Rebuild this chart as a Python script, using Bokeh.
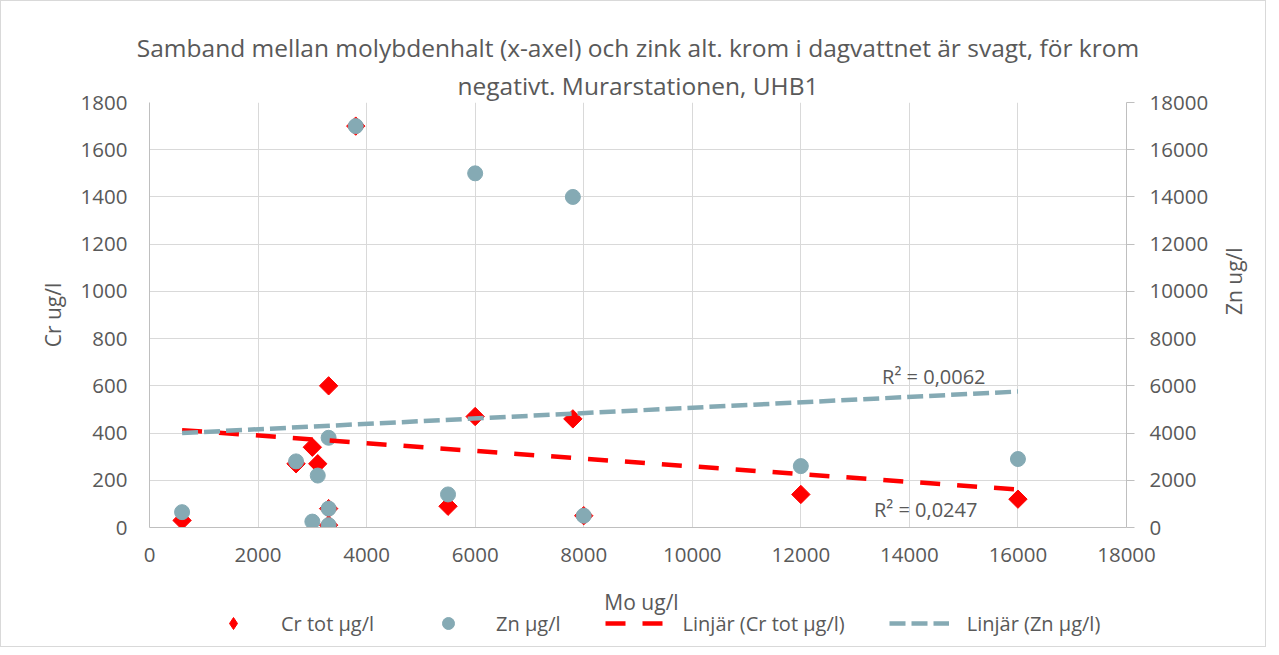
import math
import numpy as np
from bokeh.plotting import figure
from bokeh.layouts import column
from bokeh.models import (Range1d, LinearAxis, FixedTicker, Legend, LegendItem, Label, Title)
from bokeh.embed import file_html
from bokeh.resources import INLINE

# ---- data ----
mo = [600, 2700, 3000, 3100, 3300, 3300, 3300, 3800, 5500, 6000, 7800, 8000, 12000, 16000]
cr = [30, 270, 340, 270, 600, 80, 10, 1700, 90, 470, 460, 50, 140, 120]
zn = [650, 2800, 250, 2200, 3800, 800, 100, 17000, 1400, 15000, 14000, 500, 2600, 2900]

x_ticks = list(range(0, 18001, 2000))
cr_ticks = list(range(0, 1801, 200))
zn_ticks = list(range(0, 18001, 2000))

r2_cr = "R² = 0,0247"
r2_zn = "R² = 0,0062"

title_line1 = "Samband mellan molybdenhalt (x-axel) och zink alt. krom i dagvattnet är svagt, för krom"
title_line2 = "negativt. Murarstationen, UHB1"
x_label = "Mo ug/l"
legend_labels = ["Cr tot µg/l", "Zn µg/l", "Linjär (Cr tot µg/l)", "Linjär (Zn µg/l)"]

FONT = "Open Sans"
TXT = "#595959"
GRID = "#d9d9d9"
AXIS = "#bfbfbf"
RED = "#ff0000"
TEAL = "#85aab4"
W = 1264

p = figure(width=W, height=580, output_backend="svg", toolbar_location=None,
           title=None,
           x_range=Range1d(0, 18000), y_range=Range1d(0, 1800),
           min_border_left=148, min_border_right=137, min_border_top=101, min_border_bottom=54)
p.extra_y_ranges = {"zn": Range1d(0, 18000)}
p.outline_line_color = None
p.background_fill_color = "white"
p.border_fill_color = "white"

# title (two lines, first added is nearest to the plot)
for txt, so in [(title_line2, 2), (title_line1, 4)]:
    p.add_layout(Title(text=txt, align="center", text_font=FONT, text_font_size="24.5px",
                       text_font_style="normal", text_color=TXT, standoff=so),
                 "above")

# grids
p.xgrid.grid_line_color = GRID
p.ygrid.grid_line_color = GRID
p.xgrid.ticker = FixedTicker(ticks=x_ticks)
p.ygrid.ticker = FixedTicker(ticks=cr_ticks)

def style_axis(ax):
    ax.axis_line_color = AXIS
    ax.major_tick_line_color = AXIS
    ax.minor_tick_line_color = None
    ax.major_tick_in = 0
    ax.major_label_text_font = FONT
    ax.major_label_text_font_size = "20.5px"
    ax.major_label_text_color = TXT
    ax.axis_label_text_font = FONT
    ax.axis_label_text_font_size = "21px"
    ax.axis_label_text_font_style = "normal"
    ax.axis_label_text_color = TXT

xa = p.xaxis[0]
style_axis(xa)
xa.ticker = FixedTicker(ticks=x_ticks)
xa.major_tick_out = 0
xa.major_label_standoff = 20

ya = p.yaxis[0]
style_axis(ya)
ya.ticker = FixedTicker(ticks=cr_ticks)
ya.axis_label = "Cr ug/l"
ya.major_tick_out = 0
ya.major_label_standoff = 22
ya.axis_label_standoff = 11

ra = LinearAxis(y_range_name="zn", ticker=FixedTicker(ticks=zn_ticks), axis_label="Zn ug/l")
style_axis(ra)
ra.major_tick_out = 8
ra.major_label_standoff = 15
ra.axis_label_standoff = 23
try:
    ra.axis_label_orientation = math.pi / 2
except Exception:
    pass
p.add_layout(ra, "right")

# points
r_cr = p.scatter(mo, cr, marker="square", size=13, angle=np.pi / 4,
                 fill_color=RED, line_color=RED)
r_zn = p.scatter(mo, zn, marker="circle", size=15, y_range_name="zn",
                 fill_color=TEAL, line_color=TEAL)

# linear trend lines (least squares, as Excel)
xs = np.array([min(mo), max(mo)], dtype=float)
kc, mc = np.polyfit(mo, cr, 1)
kz, mz = np.polyfit(mo, zn, 1)
p.line(xs, kc * xs + mc, line_color=RED, line_width=4.5, line_dash="20 17")
p.line(xs, kz * xs + mz, line_color=TEAL, line_width=4.5, line_dash="16 6", y_range_name="zn")

for txt, xv, yv in [(r2_zn, 14450, 640), (r2_cr, 14300, 78)]:
    p.add_layout(Label(x=xv, y=yv, text=txt, text_align="center", text_baseline="middle",
                       text_font=FONT, text_font_size="20px", text_color=TXT))

# ---- strip below: x-axis title and legend (its frame is aligned with the plot's) ----
q = figure(width=W, height=65, output_backend="svg", toolbar_location=None, title=None,
           x_range=Range1d(0, 1), y_range=Range1d(0, 1), min_border=0,
           x_axis_location=None, y_axis_location=None)
q.grid.visible = False
q.outline_line_color = None
q.border_fill_color = "white"

q.add_layout(Label(x=492, y=45, x_units="screen", y_units="screen", text=x_label,
                   text_align="center", text_baseline="middle", text_font=FONT,
                   text_font_size="21px", text_color=TXT))

# legend proxies: the same series, drawn outside this strip's 0..1 ranges
g1 = q.scatter(mo, cr, marker="diamond", size=14, fill_color=RED, line_color=RED)
g2 = q.scatter(mo, zn, marker="circle", size=12, fill_color=TEAL, line_color=TEAL)
g3 = q.line(xs, kc * xs + mc, line_color=RED, line_width=4.5, line_dash="20 17")
g4 = q.line(xs, kz * xs + mz, line_color=TEAL, line_width=4.5, line_dash="16 6")

legend = Legend(items=[LegendItem(label=lab, renderers=[g]) for lab, g in
                       zip(legend_labels, [g1, g2, g3, g4])],
                orientation="horizontal", location=(54, 8))
legend.border_line_color = None
legend.background_fill_alpha = 0
legend.label_text_font = FONT
legend.label_text_font_size = "20px"
legend.label_text_color = TXT
legend.glyph_width = 60
legend.glyph_height = 30
legend.label_height = 20
legend.label_standoff = 18
legend.spacing = 44
legend.padding = 0
legend.margin = 0
q.add_layout(legend, "center")

lay = column(p, q, spacing=0, styles={"border": "1px solid #d9d9d9"})

open("out.html", "w").write(file_html(lay, INLINE))
